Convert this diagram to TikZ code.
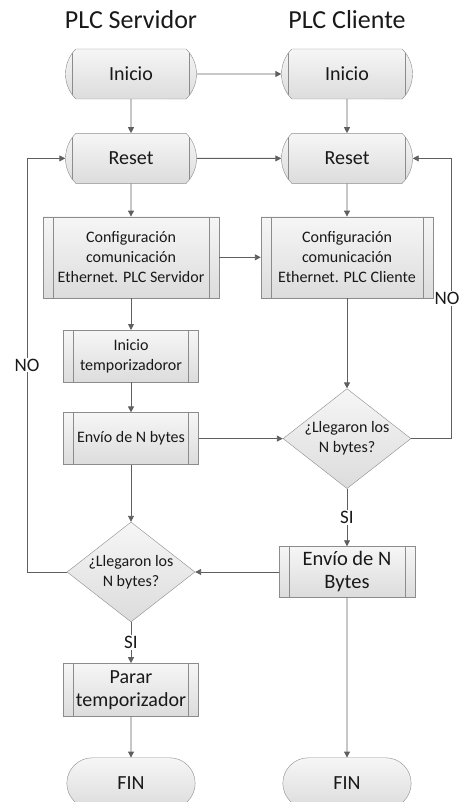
\documentclass[tikz,border=0pt]{standalone}
\usepackage{fontspec}
\setmainfont{Carlito}
\usepackage{tikz}
\usetikzlibrary{positioning, arrows.meta, shapes.geometric, shapes.misc, calc}
\definecolor{BoxStroke}{RGB}{140, 140, 140}
\definecolor{LineGray}{RGB}{95, 95, 95}
\definecolor{FillTop}{RGB}{246, 246, 246}
\definecolor{FillBottom}{RGB}{220, 220, 220}
\definecolor{TextDark}{RGB}{25, 25, 25}
\tikzset{
    % Heading over each column
    coltitle/.style={
        text=TextDark,
        font=\fontsize{26}{30}\selectfont
    },
    % Start / reset block (flat arcs at both ends)
    startbox/.style={
        draw=BoxStroke,
        top color=FillTop,
        bottom color=FillBottom,
        rounded rectangle,
        rounded rectangle arc length=90,
        minimum width=135pt,
        minimum height=50pt,
        inner sep=2pt,
        text=TextDark,
        font=\fontsize{20}{24}\selectfont,
        path picture={
            \draw[BoxStroke] ([xshift=10.4pt]path picture bounding box.north west)
                -- ([xshift=10.4pt]path picture bounding box.south west);
            \draw[BoxStroke] ([xshift=-10.4pt]path picture bounding box.north east)
                -- ([xshift=-10.4pt]path picture bounding box.south east);
        }
    },
    % Subprocess block (double side lines)
    subproc/.style={
        draw=BoxStroke,
        top color=FillTop,
        bottom color=FillBottom,
        rectangle,
        minimum width=135pt,
        minimum height=52pt,
        inner sep=2pt,
        align=center,
        text=TextDark,
        font=\fontsize{16}{20}\selectfont,
        path picture={
            \draw[BoxStroke] ([xshift=10pt]path picture bounding box.north west)
                -- ([xshift=10pt]path picture bounding box.south west);
            \draw[BoxStroke] ([xshift=-10pt]path picture bounding box.north east)
                -- ([xshift=-10pt]path picture bounding box.south east);
        }
    },
    % Question diamond
    ask/.style={
        draw=BoxStroke,
        top color=FillTop,
        bottom color=FillBottom,
        diamond,
        aspect=1.28,
        minimum width=121pt,
        minimum height=95pt,
        inner sep=0pt,
        align=center,
        text=TextDark,
        font=\fontsize{16}{20}\selectfont
    },
    % End terminal
    finbox/.style={
        draw=BoxStroke,
        top color=FillTop,
        bottom color=FillBottom,
        rounded rectangle,
        minimum width=135pt,
        minimum height=51pt,
        text=TextDark,
        font=\fontsize{20}{24}\selectfont
    },
    % Connector
    flow/.style={
        -{Triangle[length=6pt, width=6pt]},
        draw=LineGray,
        line width=0.9pt
    },
    % Yes / no tag on a connector
    tag/.style={
        fill=white,
        inner sep=1pt,
        text=TextDark,
        font=\fontsize{19}{22}\selectfont
    }
}

\begin{document}
\begin{tikzpicture}[x=1pt, y=-1pt]
    \useasboundingbox (0,0) rectangle (460,802);

    % ==========================================
    % LEFT COLUMN: PLC SERVIDOR
    % ==========================================
    \node[coltitle] (titL) at (131,20) {PLC Servidor};
    \node[startbox] (iniL) at (131,74) {Inicio};
    \node[startbox, below=34pt of iniL] (resL) {Reset};
    \node[subproc, minimum width=176pt, minimum height=81pt, below=33pt of resL] (cfgL)
        {Configuración\\comunicación\\Ethernet. PLC Servidor};
    \node[subproc, below=32pt of cfgL] (tmrL) {Inicio\\temporizadoror};
    \node[subproc, below=30pt of tmrL] (envL) {Envío de N bytes};
    \node[ask, below=57pt of envL] (askL) {¿Llegaron los\\N bytes?};
    \node[subproc, minimum height=53pt, font=\fontsize{20}{23}\selectfont,
          below=41pt of askL] (stopL) {Parar\\temporizador};
    \node[finbox, below=41pt of stopL] (finL) {FIN};

    % ==========================================
    % RIGHT COLUMN: PLC CLIENTE
    % ==========================================
    \coordinate (colR) at (347,0);
    \node[coltitle] (titR) at (colR |- titL) {PLC Cliente};
    \node[startbox] (iniR) at (colR |- iniL) {Inicio};
    \node[startbox] (resR) at (colR |- resL) {Reset};
    \node[subproc, minimum width=172pt, minimum height=81pt] (cfgR) at (colR |- cfgL)
        {Configuración\\comunicación\\Ethernet. PLC Cliente};
    \node[ask, minimum width=120pt, minimum height=94pt] (askR) at (colR |- envL)
        {¿Llegaron los\\N bytes?};
    \node[subproc, minimum width=136pt, minimum height=51pt,
          font=\fontsize{20.5}{23}\selectfont] (envR) at (colR |- askL)
        {Envío de N\\Bytes};
    \node[finbox] (finR) at (colR |- finL) {FIN};

    % ==========================================
    % CONNECTORS
    % ==========================================
    \foreach \a/\b in {iniL/resL, resL/cfgL, cfgL/tmrL, tmrL/envL, envL/askL,
                       stopL/finL, iniR/resR, resR/cfgR, cfgR/askR, envR/finR,
                       iniL/iniR, resL/resR, cfgL/cfgR, envL/askR, envR/askL}
        \draw[flow] (\a) -- (\b);

    \draw[flow] (askL) -- node[tag] {SI} (stopL);
    \draw[flow] (askR) -- node[tag] {SI} (envR);

    % Loops back to Reset
    \coordinate (loopL) at (27,0);
    \coordinate (loopR) at (451,0);
    \draw[flow] (askL.west) -- (askL.west -| loopL)
        -- node[tag] {NO} (resL.west -| loopL) -- (resL.west);
    \draw[flow] (askR.east) -- (askR.east -| loopR)
        -- node[tag, xshift=-4pt] {NO} (resR.east -| loopR) -- (resR.east);

\end{tikzpicture}
\end{document}
